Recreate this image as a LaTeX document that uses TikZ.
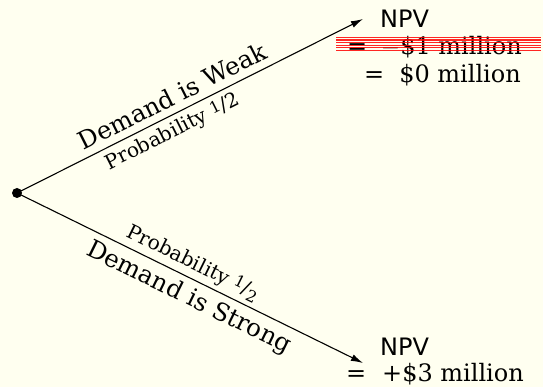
\documentclass[tikz,border=0pt]{standalone}
\usepackage{fontspec}
\setmainfont{DejaVu Serif}
\newfontfamily\npvfont{DejaVu Sans}
\usetikzlibrary{arrows.meta}
\definecolor{bgcream}{RGB}{255,255,240}
\begin{document}
\begin{tikzpicture}[x=1pt,y=-1pt,
  branch/.style={line width=1.1pt,-{Latex[length=12pt,width=7pt]}},
  bigtxt/.style={font=\fontsize{24.5}{26}\selectfont, inner sep=0pt},
  smalltxt/.style={font=\fontsize{20}{22}\selectfont, inner sep=0pt},
  npvtxt/.style={font=\npvfont\fontsize{24}{26}\selectfont, inner sep=0pt},
  valtxt/.style={font=\fontsize{24}{26}\selectfont, inner sep=0pt},
  strike/.style={red, line width=1.2pt, opacity=0.85}]
\fill[bgcream] (0,0) rectangle (543,387);
\useasboundingbox (0,0) rectangle (543,387);

\coordinate (root) at (17,193);
\coordinate (up) at (363,19);
\coordinate (down) at (363,363);
\fill (root) circle (5);

\draw[branch] (root) -- (up)
  node[bigtxt, sloped, pos=0.47, above=7pt] (weak) {Demand is Weak}
  node[smalltxt, sloped, pos=0.43, below=5pt] (pw) {Probability \raisebox{0.35ex}{\fontsize{16}{18}\selectfont 1}/2};
\draw[branch] (root) -- (down)
  node[smalltxt, sloped, pos=0.49, above=4pt] (ps) {Probability \raisebox{0.4ex}{\fontsize{16}{18}\selectfont 1}/\raisebox{-0.4ex}{\fontsize{16}{18}\selectfont 2}}
  node[bigtxt, sloped, pos=0.52, below=6pt] (strong) {Demand is Strong};

% top outcome
\node[npvtxt, anchor=base west] (npv1) at (380,28) {NPV};
\node[valtxt, anchor=base west] (eq1) at (347,55) {=};
\node[valtxt, anchor=base east] (v1) at (522,55) {$-$\$1 million};
\node[valtxt, anchor=base west] (eq2) at (364,83) {=};
\node[valtxt, anchor=base east] (v2) at (521,83) {\$0 million};
\foreach \yy in {37.5,40.1,42.7,45.3,47.9,50.5}
  \draw[strike] (336,\yy) -- (541,\yy);

% bottom outcome
\node[npvtxt, anchor=base west] (npv2) at (380,355) {NPV};
\node[valtxt, anchor=base west] (eq3) at (346,381) {=};
\node[valtxt, anchor=base west] (v3) at (382,381) {+\$3 million};
\end{tikzpicture}
\end{document}
